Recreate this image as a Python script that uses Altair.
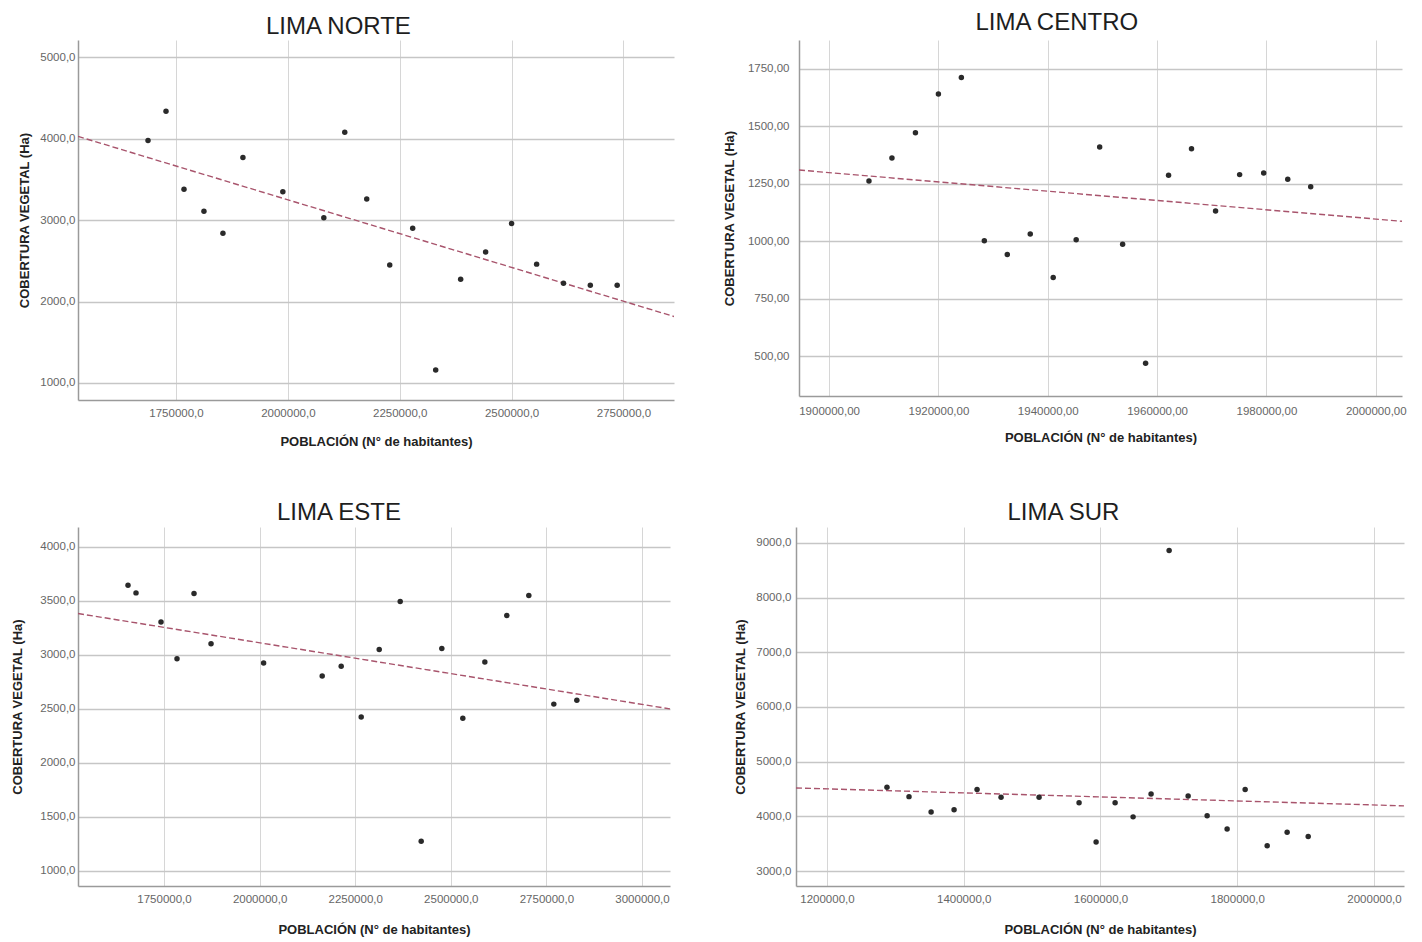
import altair as alt
import pandas as pd

# ---------------- data ----------------
norte_pob = [1687500, 1727700, 1767900, 1812500, 1854900, 1899600, 1988800, 2080400,
             2127200, 2176300, 2227700, 2279000, 2330400, 2386200, 2442000, 2500000,
             2556000, 2616000, 2676000, 2736000]
norte_cob = [3980, 4340, 3380, 3110, 2840, 3770, 3350, 3030, 4080, 3260, 2450, 2900,
             1160, 2275, 2610, 2960, 2460, 2225, 2200, 2200]

centro_pob = [1907300, 1911500, 1915800, 1920000, 1924200, 1928400, 1932600, 1936800,
              1941000, 1945200, 1949500, 1953700, 1957900, 1962100, 1966300, 1970700,
              1975100, 1979500, 1983900, 1988100]
centro_cob = [1262, 1362, 1472, 1640, 1712, 1003, 943, 1032, 843, 1007, 1410, 987,
              470, 1287, 1402, 1132, 1290, 1297, 1270, 1237]

este_pob = [1655900, 1676800, 1742200, 1784000, 1828500, 1873000, 2010500, 2163700,
            2213400, 2265700, 2312800, 2367700, 2422600, 2476500, 2531400, 2589000,
            2646500, 2704000, 2769400, 2829600]
este_cob = [3645, 3575, 3305, 2965, 3570, 3105, 2925, 2805, 2895, 2425, 3050, 3495,
            1275, 3060, 2415, 2935, 3365, 3550, 2545, 2580]

sur_pob = [1287750, 1320000, 1352300, 1385900, 1419500, 1454600, 1510200, 1568700,
           1593600, 1621400, 1647700, 1674000, 1700400, 1728200, 1756000, 1785200,
           1811600, 1843800, 1873000, 1903800]
sur_cob = [4530, 4360, 4080, 4120, 4490, 4350, 4350, 4250, 3530, 4250, 3990, 4410,
           8860, 4370, 4010, 3770, 4490, 3460, 3710, 3630]

# axis ranges and tick values
norte_xdom = [1531000, 2863000]
norte_xticks = [1750000, 2000000, 2250000, 2500000, 2750000]
norte_ydom = [790, 5215]
norte_yticks = [1000, 2000, 3000, 4000, 5000]

centro_xdom = [1894500, 2004800]
centro_xticks = [1900000, 1920000, 1940000, 1960000, 1980000, 2000000]
centro_ydom = [328, 1875]
centro_yticks = [500, 750, 1000, 1250, 1500, 1750]

este_xdom = [1525100, 3073200]
este_xticks = [1750000, 2000000, 2250000, 2500000, 2750000, 3000000]
este_ydom = [861, 4185]
este_yticks = [1000, 1500, 2000, 2500, 3000, 3500, 4000]

sur_xdom = [1154700, 2043900]
sur_xticks = [1200000, 1400000, 1600000, 1800000, 2000000]
sur_ydom = [2726, 9290]
sur_yticks = [3000, 4000, 5000, 6000, 7000, 8000, 9000]

XTITLE = "POBLACIÓN (N° de habitantes)"
YTITLE = "COBERTURA VEGETAL (Ha)"


def panel(title, pob, cob, xdom, xticks, ydom, yticks, dec, w, h,
          ylabpad, ytitpad, xlabpad, xtitpad, toff, tdx):
    df = pd.DataFrame({"pob": pob, "cob": cob})
    fmt = "replace(format(datum.value, '.%df'), '.', ',')" % dec
    x = alt.X("pob:Q",
              scale=alt.Scale(domain=xdom, nice=False, zero=False),
              axis=alt.Axis(values=xticks, labelExpr=fmt, title=XTITLE,
                            labelPadding=xlabpad, titlePadding=xtitpad))
    y = alt.Y("cob:Q",
              scale=alt.Scale(domain=ydom, nice=False, zero=False),
              axis=alt.Axis(values=yticks, labelExpr=fmt, title=YTITLE,
                            labelPadding=ylabpad, titlePadding=ytitpad))
    base = alt.Chart(df)
    line = base.transform_regression("pob", "cob", extent=xdom).mark_line(
        color="#a8546c", strokeDash=[6, 3], strokeWidth=1.4, clip=True
    ).encode(x=x, y=y)
    pts = base.mark_circle(size=30, color="#2a2a2a", opacity=1).encode(x=x, y=y)
    tp = alt.TitleParams(title, offset=toff, dx=tdx)
    return alt.layer(line, pts).properties(width=w, height=h, title=tp)


p1 = panel("LIMA NORTE", norte_pob, norte_cob, norte_xdom, norte_xticks, norte_ydom,
           norte_yticks, 1, 596, 360, 3, 8, 7, 17, 1, -8)
p2 = panel("LIMA CENTRO", centro_pob, centro_cob, centro_xdom, centro_xticks, centro_ydom,
           centro_yticks, 2, 603, 356, 10, 11, 9, 15, 5, -8)
p3 = panel("LIMA ESTE", este_pob, este_cob, este_xdom, este_xticks, este_ydom,
           este_yticks, 1, 592, 359, 3, 15, 7, 19, 2, -2)
p4 = panel("LIMA SUR", sur_pob, sur_cob, sur_xdom, sur_xticks, sur_ydom,
           sur_yticks, 1, 608, 359, 5, 8, 7, 19, 2, -6)

row1 = alt.hconcat(p1, p2, spacing=47)
row2 = alt.hconcat(p3, p4, spacing=63)

chart = alt.vconcat(row1, row2, spacing=51).properties(
    padding={"left": 3, "top": 2, "right": 0, "bottom": 0}
).configure(
    font="Liberation Sans"
).configure_axis(
    grid=True, ticks=False, domain=True, domainColor="#9a9a9a", domainWidth=1.5,
    labelFont="Liberation Sans", labelFontSize=11.5, labelColor="#666666",
    titleFont="Liberation Sans", titleFontSize=13, titleFontWeight="bold",
    titleColor="#222222", labelFlush=False
).configure_axisY(
    gridColor="#c6c6c6", gridWidth=1.5
).configure_axisX(
    gridColor="#d6d6d6", gridWidth=1
).configure_view(
    stroke="transparent"
).configure_title(
    font="Liberation Sans", fontSize=24, fontWeight="normal", color="#1e1e1e",
    anchor="middle", frame="bounds"
)

chart.save("out.html", embed_options={"renderer": "svg", "actions": False})
